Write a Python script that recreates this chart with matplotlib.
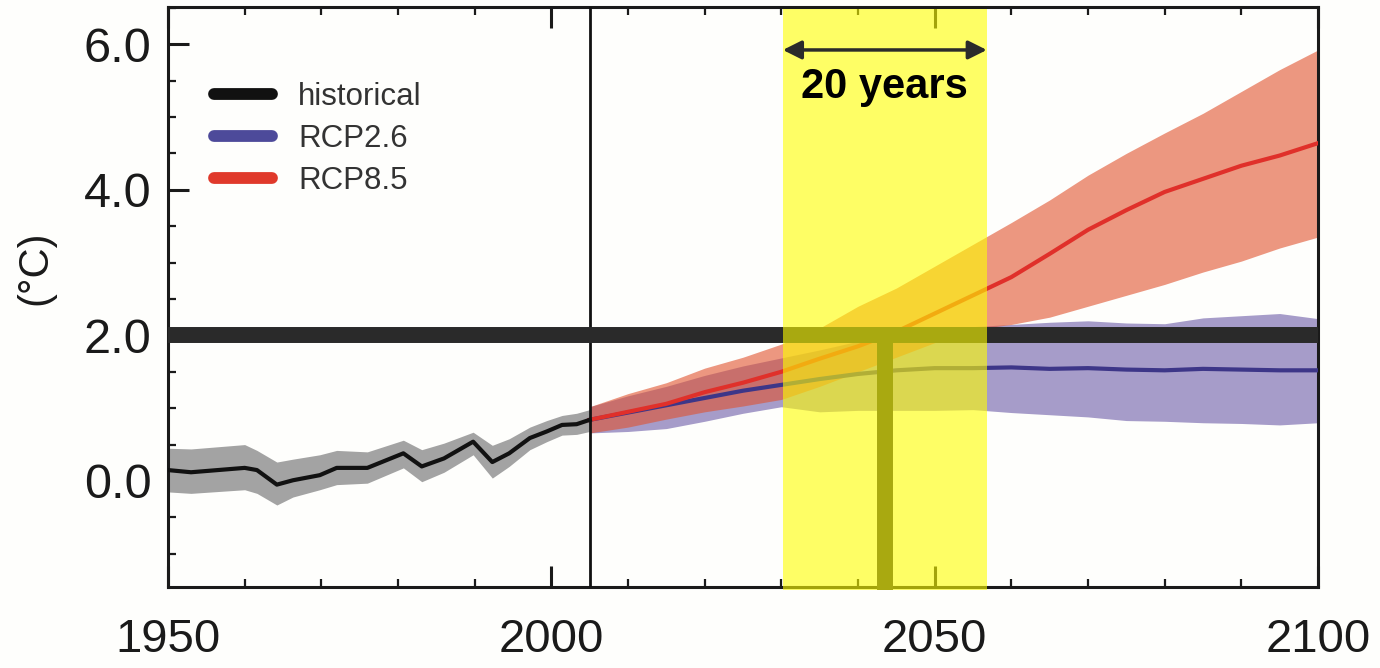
import matplotlib
matplotlib.use("Agg")
import matplotlib.pyplot as plt
from matplotlib.lines import Line2D
from matplotlib.ticker import MultipleLocator, FixedLocator

plt.rcParams['font.family'] = ['Liberation Sans', 'DejaVu Sans']

# ---------------- data ----------------
hist_years = [1950, 1953, 1960, 1961.6, 1964.2, 1966.3, 1969.8, 1972, 1976, 1980.7,
              1983.1, 1986, 1989.8, 1992.3, 1994.5, 1997.2, 1999.4, 2001.4, 2003.3, 2005]
hist_mean = [0.15, 0.12, 0.18, 0.15, -0.05, 0.01, 0.08, 0.18, 0.18, 0.38,
             0.20, 0.31, 0.54, 0.26, 0.38, 0.59, 0.68, 0.77, 0.78, 0.84]
hist_hi = [0.45, 0.44, 0.50, 0.42, 0.26, 0.30, 0.36, 0.42, 0.40, 0.56,
           0.43, 0.52, 0.67, 0.49, 0.58, 0.74, 0.83, 0.90, 0.93, 0.98]
hist_lo = [-0.15, -0.17, -0.12, -0.17, -0.33, -0.22, -0.12, -0.05, -0.03, 0.18,
           -0.01, 0.12, 0.36, 0.04, 0.20, 0.43, 0.54, 0.63, 0.64, 0.68]

fut_years = [2005, 2010, 2015, 2020, 2025, 2030, 2035, 2040, 2045, 2050,
             2055, 2060, 2065, 2070, 2075, 2080, 2085, 2090, 2095, 2100]
rcp85_mean = [0.84, 0.95, 1.06, 1.22, 1.35, 1.50, 1.68, 1.85, 2.05, 2.30,
              2.55, 2.80, 3.12, 3.45, 3.72, 3.97, 4.15, 4.33, 4.47, 4.64]
rcp85_hi = [1.02, 1.20, 1.35, 1.55, 1.70, 1.88, 2.10, 2.40, 2.65, 2.95,
            3.25, 3.55, 3.86, 4.20, 4.50, 4.78, 5.05, 5.35, 5.65, 5.92]
rcp85_lo = [0.66, 0.74, 0.85, 0.95, 1.03, 1.12, 1.30, 1.50, 1.70, 1.90,
            2.08, 2.15, 2.25, 2.40, 2.55, 2.70, 2.87, 3.02, 3.20, 3.35]
rcp26_mean = [0.84, 0.94, 1.04, 1.14, 1.24, 1.32, 1.40, 1.47, 1.52, 1.55,
              1.55, 1.56, 1.54, 1.55, 1.53, 1.52, 1.54, 1.53, 1.52, 1.52]
rcp26_hi = [1.02, 1.17, 1.30, 1.45, 1.58, 1.69, 1.80, 1.92, 2.00, 2.08,
            2.12, 2.15, 2.18, 2.20, 2.17, 2.16, 2.24, 2.27, 2.30, 2.23]
rcp26_lo = [0.66, 0.68, 0.72, 0.82, 0.93, 1.02, 0.95, 0.97, 0.97, 0.97,
            0.98, 0.94, 0.91, 0.88, 0.83, 0.82, 0.80, 0.79, 0.77, 0.80]

threshold = 2.0
window_start, window_end = 2030.2, 2056.8
crossing_year = 2043.5
window_label = "20 years"
series_labels = ["historical", "RCP2.6", "RCP8.5"]
x_major = [1950, 2000, 2050, 2100]
y_major = [0.0, 2.0, 4.0, 6.0]

# ---------------- figure ----------------
W, H = 1380, 668
fig = plt.figure(figsize=(W / 100, H / 100), dpi=100, facecolor='#fefefc')
ax = fig.add_axes([168 / W, (H - 587) / H, (1318 - 168) / W, (587 - 7) / H])
ax.set_facecolor('#fefefc')

ax.set_xlim(1950, 2100)
ax.set_ylim(-1.456, 6.51)

c_hist_band = '#a3a3a3'
c_26_band = '#a69cc9'
c_85_band = '#e0522e'
c_26_line = '#3d3688'
c_85_line = '#e0302a'

ax.fill_between(hist_years, hist_lo, hist_hi, color=c_hist_band, lw=0, zorder=2)
ax.plot(hist_years, hist_mean, color='#111111', lw=3, zorder=3.2)

ax.fill_between(fut_years, rcp26_lo, rcp26_hi, color=c_26_band, lw=0, zorder=2)
ax.fill_between(fut_years, rcp85_lo, rcp85_hi, color=c_85_band, alpha=0.6, lw=0, zorder=2.1)
ax.plot(fut_years, rcp26_mean, color=c_26_line, lw=3, zorder=3)
ax.plot(fut_years, rcp85_mean, color=c_85_line, lw=3, zorder=3.1)

ax.axvline(2005, color='#111111', lw=2, zorder=3.4)

# 2 degree threshold bar and crossing marker
ax.axhline(threshold, color='#2a2a2a', lw=11.5, zorder=3.6)
ax.plot([crossing_year, crossing_year], [threshold, -1.50], color='#2a2a2a',
        lw=11.5, solid_capstyle='butt', zorder=3.6, clip_on=False)

# yellow window
ax.axvspan(window_start, window_end, ymin=-0.005, ymax=0.997, color=(1, 1, 0),
           alpha=0.6, lw=0, zorder=4, clip_on=False)

ax.annotate('', xy=(window_start, 5.92), xytext=(window_end, 5.92),
            arrowprops=dict(arrowstyle='<|-|>', color='#2b2b2b', lw=2.5,
                            mutation_scale=28, shrinkA=0, shrinkB=0), zorder=5)
ax.text(crossing_year, 5.26, window_label, ha='center', va='baseline',
        fontsize=30, fontweight='bold', color='black', zorder=5)

# axes styling
for side in ['left', 'bottom', 'top', 'right']:
    ax.spines[side].set_linewidth(2.2)
    ax.spines[side].set_color('#1a1a1a')

ax.xaxis.set_major_locator(FixedLocator(x_major))
ax.xaxis.set_minor_locator(MultipleLocator(10))
ax.yaxis.set_major_locator(FixedLocator(y_major))
ax.yaxis.set_minor_locator(MultipleLocator(0.5))
ax.set_yticklabels([f"{v:.1f}" for v in y_major])
ax.set_xticklabels([str(v) for v in x_major])

ax.tick_params(axis='x', which='both', direction='in', top=True, bottom=True,
               color='#1a1a1a', labelcolor='#1a1a1a')
ax.tick_params(axis='x', which='major', length=15, width=2.2, labelsize=34, pad=22)
ax.tick_params(axis='x', which='minor', length=6, width=1.6)
ax.tick_params(axis='y', which='both', direction='in', left=True, right=False,
               color='#1a1a1a', labelcolor='#1a1a1a')
ax.tick_params(axis='y', which='major', length=15, width=2.2, labelsize=35, pad=12)
ax.tick_params(axis='y', which='minor', length=6, width=1.6)

ax.set_ylabel('(°C)', fontsize=30, color='#1a1a1a')
ax.yaxis.set_label_coords(-0.098, 0.55)

handles = [
    Line2D([], [], color='#111111', lw=8.5, solid_capstyle='round'),
    Line2D([], [], color='#4d4a9a', lw=8.5, solid_capstyle='round'),
    Line2D([], [], color='#e0392b', lw=8.5, solid_capstyle='round'),
]
leg = ax.legend(handles, series_labels, loc='upper left', bbox_to_anchor=(0.040, 0.870),
                frameon=False, fontsize=22.5, handlelength=1.86, handletextpad=0.83,
                labelspacing=0.38, borderpad=0, borderaxespad=0)
for t in leg.get_texts():
    t.set_color('#333333')
leg.set_zorder(6)

fig.savefig('out.png', dpi=100, facecolor=fig.get_facecolor())
